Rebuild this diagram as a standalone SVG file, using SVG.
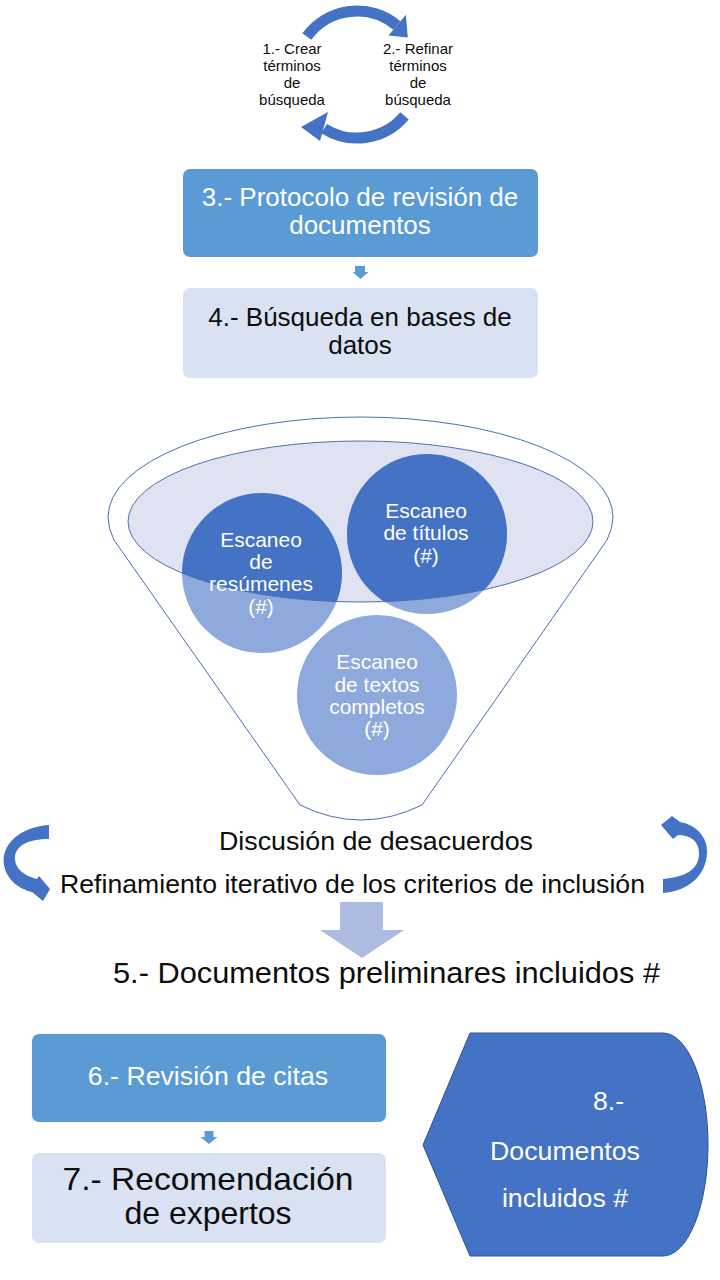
<svg xmlns="http://www.w3.org/2000/svg" width="720" height="1280" viewBox="0 0 720 1280">
<style>
text{font-family:"Liberation Sans",Arial,sans-serif;text-anchor:middle}
.w{fill:#ffffff}
.k{fill:#0d0d0d}
.dark{fill:#4472C4}
.mid{fill:#5B9BD5}
.lite{fill:#D9E2F3}
.arc{fill:none;stroke:#4472C4;stroke-width:11}
</style>
<defs>
<clipPath id="ellClip"><ellipse cx="360.5" cy="521.5" rx="232.5" ry="80.5"/></clipPath>
</defs>
<rect width="720" height="1280" fill="#ffffff"/>

<g id="connectors">
  <path class="arc" d="M306.8,36.6 A62,62 0 0 1 396.9,25.5"/>
  <polygon class="dark" points="388.5,35.5 405.9,14.8 407.8,37.4"/>
  <path class="arc" d="M404.5,115.9 A62,62 0 0 1 324.1,128.6"/>
  <polygon class="dark" points="328,112 301,127 320,141"/>
  <polygon class="mid" points="355,266 365,266 365,272 368.5,272 360.5,279 352.5,272 355,272"/>
  <polygon class="mid" points="204.5,1131 213.5,1131 213.5,1137 217.5,1137 209,1144 200.5,1137 204.5,1137"/>
  <polygon fill="#AEBBE0" points="340,902 383,902 383,930 404,930 362,958 320,930 340,930"/>
  <path class="dark" d="M49,825 C19,827 1,845 4,865 C7,881 20,889 32,892 L43,901 L50,889 L39,876 L37,879 C26,876 15,870 15,858 C15,846 28,839 49,839 Z"/>
  <path class="dark" d="M663,879 C685,877 699,870 699,853 C699,841 690,835 678,835 L673,839 L661,825 L672,816 L680,822 C697,825 708,838 707,853 C706,876 688,891 663,893 Z"/>
</g>

<g id="node-1">
  <text font-size="15" class="k"><tspan x="292" y="53.5">1.- Crear</tspan><tspan x="292" y="70.8">términos</tspan><tspan x="292" y="88">de</tspan><tspan x="292" y="105.3">búsqueda</tspan></text>
</g>
<g id="node-2">
  <text font-size="15" class="k"><tspan x="418" y="53.5">2.- Refinar</tspan><tspan x="418" y="70.8">términos</tspan><tspan x="418" y="88">de</tspan><tspan x="418" y="105.3">búsqueda</tspan></text>
</g>

<g id="node-3">
  <rect x="183" y="169" width="355" height="88" rx="7" class="mid"/>
  <text font-size="26" class="w"><tspan x="360" y="206">3.- Protocolo de revisión de</tspan><tspan x="360" y="234">documentos</tspan></text>
</g>
<g id="node-4">
  <rect x="183" y="288" width="355" height="90" rx="7" class="lite"/>
  <text font-size="26" class="k"><tspan x="360" y="326">4.- Búsqueda en bases de</tspan><tspan x="360" y="354">datos</tspan></text>
</g>

<g id="funnel">
  <path d="M108,517 A252.5,100 0 0 1 613,517 Q613,528 607,540 L422,805 Q361,835 300,805 L114,540 Q108,528 108,517 Z" fill="#ffffff" stroke="#4F6FAD" stroke-width="1"/>
  <ellipse cx="360.5" cy="521.5" rx="232.5" ry="80.5" fill="#DFE3F1"/>
  <circle cx="262" cy="573" r="80" fill="#8EA9DB"/>
  <circle cx="427" cy="534" r="80" fill="#8EA9DB"/>
  <g clip-path="url(#ellClip)">
    <circle cx="262" cy="573" r="80" class="dark"/>
    <circle cx="427" cy="534" r="80" class="dark"/>
  </g>
  <ellipse cx="360.5" cy="521.5" rx="232.5" ry="80.5" fill="none" stroke="#4F6FAD" stroke-width="1"/>
</g>
<g id="node-resumenes">
  <text font-size="21" class="w"><tspan x="261" y="546.7">Escaneo</tspan><tspan x="261" y="569">de</tspan><tspan x="261" y="591.3">resúmenes</tspan><tspan x="261" y="613.6">(#)</tspan></text>
</g>
<g id="node-titulos">
  <text font-size="21" class="w"><tspan x="426" y="518">Escaneo</tspan><tspan x="426" y="540.3">de títulos</tspan><tspan x="426" y="562.6">(#)</tspan></text>
</g>
<g id="node-textos">
  <circle cx="377" cy="695" r="80" fill="#8EA9DB"/>
  <text font-size="21" class="w"><tspan x="377" y="669.3">Escaneo</tspan><tspan x="377" y="691.6">de textos</tspan><tspan x="377" y="714">completos</tspan><tspan x="377" y="736.3">(#)</tspan></text>
</g>

<g id="node-discusion">
  <text x="376" y="850" font-size="25" class="k" textLength="314" lengthAdjust="spacingAndGlyphs">Discusión de desacuerdos</text>
</g>
<g id="node-refinamiento">
  <text x="352.5" y="893" font-size="25" class="k" textLength="585" lengthAdjust="spacingAndGlyphs">Refinamiento iterativo de los criterios de inclusión</text>
</g>
<g id="node-5">
  <text x="386.5" y="983" font-size="30" class="k" textLength="547" lengthAdjust="spacingAndGlyphs">5.- Documentos preliminares incluidos #</text>
</g>

<g id="node-6">
  <rect x="32" y="1034" width="354" height="88" rx="7" class="mid"/>
  <text x="208" y="1085" font-size="26.7" class="w">6.- Revisión de citas</text>
</g>
<g id="node-7">
  <rect x="32" y="1153" width="354" height="90" rx="7" class="lite"/>
  <text font-size="32" class="k"><tspan x="208" y="1190" textLength="291" lengthAdjust="spacingAndGlyphs">7.- Recomendación</tspan><tspan x="208" y="1224">de expertos</tspan></text>
</g>
<g id="node-8">
  <path d="M423,1145 L470,1033 L663,1033 A45,111.5 0 0 1 663,1256 L470,1256 Z" class="dark" stroke="#2F528F" stroke-width="1"/>
  <text font-size="26.7" class="w"><tspan x="608.5" y="1110">8.-</tspan><tspan x="565" y="1160">Documentos</tspan><tspan x="565" y="1207">incluidos #</tspan></text>
</g>
</svg>
